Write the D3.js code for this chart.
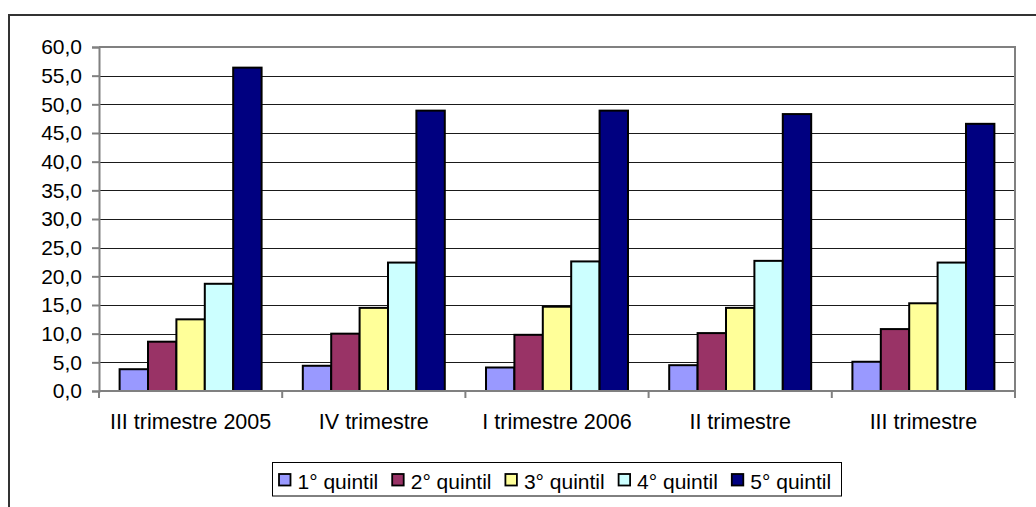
<!DOCTYPE html>
<meta charset="utf-8">
<style>
body { margin: 0; background: #fff; }
text { font-family: "Liberation Sans", Arial, sans-serif; fill: #000; }
.grid line { stroke: #1a1a1a; stroke-width: 1; shape-rendering: crispEdges; }
.axis path, .axis line { stroke: #808080; stroke-width: 2; }
</style>

<svg width="1036" height="507"></svg>

<script src="https://d3js.org/d3.v7.min.js"></script>
<script>

var periodi = ["III trimestre 2005", "IV trimestre", "I trimestre 2006", "II trimestre", "III trimestre"];
var serie = ["1° quintil", "2° quintil", "3° quintil", "4° quintil", "5° quintil"];
var colori = ["#9999ff", "#993366", "#ffff99", "#ccffff", "#000080"];

var quintil1 = [3.8, 4.4, 4.1, 4.5, 5.1];
var quintil2 = [8.6, 10.0, 9.8, 10.1, 10.8];
var quintil3 = [12.5, 14.5, 14.7, 14.5, 15.3];
var quintil4 = [18.7, 22.4, 22.6, 22.7, 22.4];
var quintil5 = [56.4, 48.9, 48.9, 48.3, 46.6];

var yTicks = d3.range(0, 60.01, 5);

var valori = [quintil1, quintil2, quintil3, quintil4, quintil5];

var svg = d3.select("svg");

// cornice esterna (esce dal bordo dell'immagine)
svg.append("rect")
    .attr("x", 9).attr("y", 15)
    .attr("width", 1040).attr("height", 520)
    .attr("fill", "none")
    .attr("stroke", "#333")
    .attr("stroke-width", 2);

var pLeft = 99, pRight = 1015, pTop = 47, pBottom = 391;

var x0 = d3.scaleBand().domain(periodi).range([pLeft, pRight]);
var bw = x0.bandwidth();
var x1 = d3.scaleBand().domain(serie).range([bw * 0.1125, bw * 0.8875]);
var y = d3.scaleLinear().domain([0, 60]).range([pBottom, pTop]);

// griglia
svg.append("g")
    .attr("class", "grid")
  .selectAll("line")
  .data(yTicks.filter(d => d > 0 && d < 60))
  .enter().append("line")
    .attr("x1", pLeft).attr("x2", pRight)
    .attr("y1", d => Math.round(y(d)) + 0.5)
    .attr("y2", d => Math.round(y(d)) + 0.5);

// bordo area del grafico (alto e destra)
svg.append("path")
    .attr("d", "M" + pLeft + "," + pTop + "H" + pRight + "V" + pBottom)
    .attr("fill", "none")
    .attr("stroke", "#808080")
    .attr("stroke-width", 2);

// barre
svg.append("g")
  .selectAll("g")
  .data(periodi)
  .enter().append("g")
    .attr("transform", d => "translate(" + x0(d) + ",0)")
  .selectAll("rect")
  .data((d, i) => serie.map((s, j) => ({ s: s, j: j, v: valori[j][i] })))
  .enter().append("rect")
    .attr("x", d => x1(d.s))
    .attr("y", d => y(d.v))
    .attr("width", x1.bandwidth())
    .attr("height", d => pBottom - y(d.v))
    .attr("fill", d => colori[d.j])
    .attr("stroke", "#000")
    .attr("stroke-width", 2);

// asse y
var yAxis = svg.append("g")
    .attr("class", "axis")
    .attr("transform", "translate(" + pLeft + ",0)")
    .call(d3.axisLeft(y).tickValues(yTicks).tickSizeOuter(0).tickSize(7).tickPadding(10)
      .tickFormat(d => d3.format(".1f")(d).replace(".", ",")));
yAxis.selectAll("text").style("font-size", "21px");

// asse x: tacche ai confini delle categorie
var xAxis = svg.append("g")
    .attr("class", "axis")
    .attr("transform", "translate(0," + pBottom + ")");
xAxis.append("path").attr("d", "M" + pLeft + ",0H" + pRight);
xAxis.selectAll("line")
  .data(periodi.map(p => x0(p)).concat([pRight]))
  .enter().append("line")
    .attr("x1", d => d).attr("x2", d => d)
    .attr("y1", 0).attr("y2", 7);
xAxis.selectAll("text")
  .data(periodi)
  .enter().append("text")
    .attr("x", d => x0(d) + bw / 2)
    .attr("y", 38)
    .attr("text-anchor", "middle")
    .style("font-size", "21.5px")
    .text(d => d);

// legenda
var legenda = svg.append("g");
legenda.append("rect")
    .attr("x", 272.5).attr("y", 462.5)
    .attr("width", 569).attr("height", 33.5)
    .attr("fill", "#fff")
    .attr("stroke", "#000")
    .attr("stroke-width", 1);

var voce = legenda.selectAll("g")
  .data(serie)
  .enter().append("g")
    .attr("transform", (d, i) => "translate(" + (279 + i * 113.2) + ",474)");
voce.append("rect")
    .attr("width", 11.5).attr("height", 11.5)
    .attr("fill", (d, i) => colori[i])
    .attr("stroke", "#000")
    .attr("stroke-width", 1.8);
voce.append("text")
    .attr("x", 18.5)
    .attr("y", 14.5)
    .style("font-size", "21px")
    .text(d => d);

</script>
